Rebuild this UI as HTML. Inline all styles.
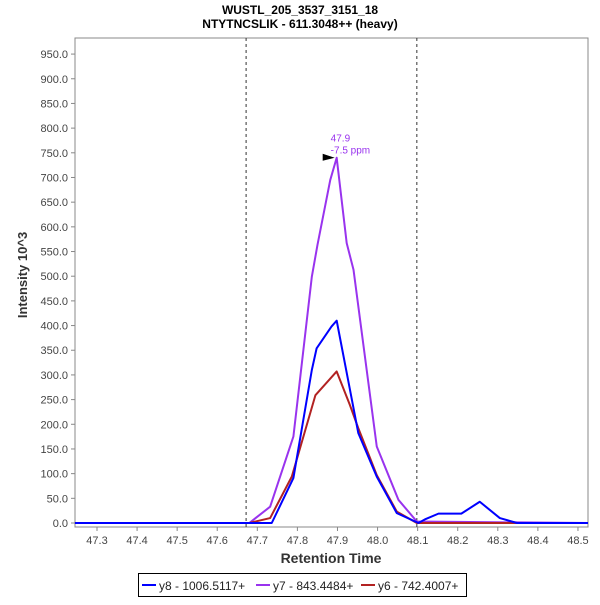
<!DOCTYPE html>
<html><head><meta charset="utf-8"><style>
body{margin:0;background:#fff;font-family:"Liberation Sans",sans-serif}
svg text{font-family:"Liberation Sans",sans-serif}
</style></head><body>
<svg id="c" width="600" height="600">
<text x="300" y="14" text-anchor="middle" font-size="12" font-weight="bold" fill="#000">WUSTL_205_3537_3151_18</text>
<text x="300" y="28" text-anchor="middle" font-size="12" font-weight="bold" fill="#000">NTYTNCSLIK - 611.3048++ (heavy)</text>
<rect x="75" y="38" width="513" height="489" fill="#fff" stroke="#888"/>
<g id="yt"></g><g id="xt"></g><g id="series"></g>
<text transform="translate(27,275) rotate(-90)" text-anchor="middle" font-size="13" font-weight="bold" fill="#333">Intensity 10^3</text>
<text x="331" y="563" text-anchor="middle" font-size="14" font-weight="bold" fill="#333">Retention Time</text>
<g>
<rect x="138.5" y="573.5" width="328" height="23" fill="#fff" stroke="#000"/>
<g><line x1="142" y1="585" x2="156" y2="585" stroke="#0000ff" stroke-width="2"/><text x="159" y="590" font-size="12" fill="#222">y8 - 1006.5117+</text></g>
<g><line x1="256" y1="585" x2="270" y2="585" stroke="#9933ee" stroke-width="2"/><text x="273" y="590" font-size="12" fill="#222">y7 - 843.4484+</text></g>
<g><line x1="361" y1="585" x2="375" y2="585" stroke="#b22222" stroke-width="2"/><text x="378" y="590" font-size="12" fill="#222">y6 - 742.4007+</text></g>
</g>
</svg>
<script>
const yTicks=[0,50,100,150,200,250,300,350,400,450,500,550,600,650,700,750,800,850,900,950];
const xTicks=[47.3,47.4,47.5,47.6,47.7,47.8,47.9,48.0,48.1,48.2,48.3,48.4,48.5];
const boundaries=[47.672,48.098];
const y8T=[47.245,47.736,47.79,47.836,47.848,47.885,47.898,47.952,47.998,48.048,48.102,48.12,48.152,48.209,48.255,48.305,48.348,48.525];
const y8V=[0,0,91,310,354,398,410,182,94,20,0,8,19,19,43,10,0,0];
const y7T=[47.245,47.68,47.732,47.79,47.836,47.85,47.882,47.898,47.923,47.94,47.998,48.052,48.098,48.525];
const y7V=[0,0,33,175,499,563,695,740,567,513,155,47,3,0];
const y6T=[47.245,47.68,47.732,47.786,47.845,47.898,47.931,47.952,47.998,48.048,48.098,48.525];
const y6V=[0,0,10,94,259,307,239,192,97,23,0,0];
const peakLabel=["47.9","-7.5 ppm"];
const peakT=47.898, peakV=740;
const NS="http://www.w3.org/2000/svg";
const X=t=>97+(t-47.3)*400.8;
const Y=v=>523-v*0.4936;
function mk(tag,attrs,parent){const e=document.createElementNS(NS,tag);for(const k in attrs)e.setAttribute(k,attrs[k]);parent.appendChild(e);return e;}
const yt=document.getElementById('yt'),xt=document.getElementById('xt'),sg=document.getElementById('series');
yTicks.forEach(v=>{
 const l=mk('line',{x1:71,x2:75,y1:Y(v),y2:Y(v),stroke:'#888'},yt);
 
 
 const t=mk('text',{x:68,y:Y(v)+4,'text-anchor':'end','font-size':11,fill:'#444'},yt);
 t.textContent=v.toFixed(1);
 
 
});
xTicks.forEach(v=>{
 const l=mk('line',{x1:X(v),x2:X(v),y1:527,y2:531,stroke:'#888'},xt);
 
 
 const t=mk('text',{x:X(v),y:544,'text-anchor':'middle','font-size':11,fill:'#444'},xt);
 t.textContent=v.toFixed(1);
 
 
});
boundaries.forEach(b=>{
 const l=mk('line',{x1:X(b),x2:X(b),y1:38,y2:527,stroke:'#333','stroke-dasharray':'3,3'},sg);
 
 
});
function line(T,V,color,name){
 const p=mk('polyline',{points:T.map((t,i)=>X(t)+','+Y(V[i])).join(' '),fill:'none',stroke:color,'stroke-width':2,'stroke-linejoin':'round'},sg);
 
 
}
line(y7T,y7V,'#9933ee','series-y7');
line(y6T,y6V,'#b22222','series-y6');
line(y8T,y8V,'#0000ff','series-y8');
const px=X(peakT),py=Y(peakV);
const m=mk('polygon',{points:`${px-14},${py-4} ${px-2},${py} ${px-14},${py+3}`,fill:'#000'},sg);


peakLabel.forEach((s,i)=>{
 const t=mk('text',{x:px-6,y:py-16+i*12,'font-size':10,fill:'#9933ee'},sg);
 t.textContent=s;
 
 
});
</script>
</body></html>
